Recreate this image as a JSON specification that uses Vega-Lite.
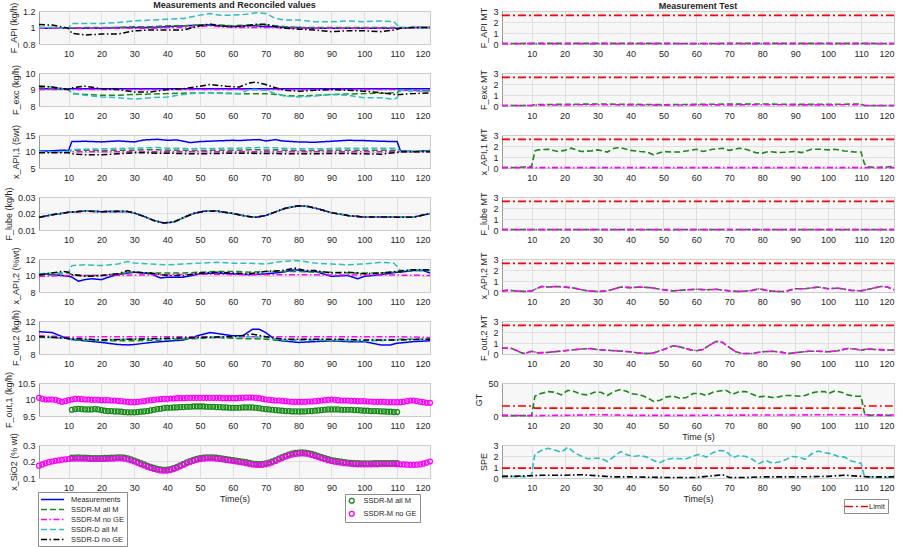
{
"background":"white",
"padding":{"left":3,"top":0,"right":0,"bottom":0},
"config":{
 "font":"Liberation Sans",
 "view":{"stroke":"#9a9a9a","fill":"#f7f7f7"},
 "axis":{"domain":false,"ticks":false,"grid":true,"gridColor":"#d9d9d9","gridWidth":0.8,"labelFontSize":9,"labelColor":"#262626","titleFontSize":9,"titleFontWeight":"normal","titleColor":"#262626","labelOverlap":false,"format":"~r"},
 "axisX":{"labelPadding":5,"titlePadding":2},
 "axisY":{"labelPadding":4,"titlePadding":4},
 "title":{"fontSize":9,"fontWeight":"bold","color":"#262626","anchor":"middle","frame":"group"},
 "legend":{"strokeColor":"#8c8c8c","fillColor":"#ffffff","padding":3,"labelFontSize":7.5,"labelColor":"#262626","rowPadding":2,"symbolStrokeWidth":1.5,"cornerRadius":0}
},
"datasets":{
"L1":[{"t":1,"a":0.99,"b":1.0,"c":0.99,"d":1.0,"e":1.035},{"t":5,"a":0.99,"b":1.0,"c":0.99,"d":1.0,"e":1.03},{"t":10,"a":0.99,"b":0.99,"c":0.99,"d":0.99,"e":0.99},{"t":11,"a":0.99,"b":0.99,"c":0.99,"d":1.05,"e":0.93},{"t":15,"a":0.99,"b":1.0,"c":0.99,"d":1.05,"e":0.91},{"t":20,"a":0.99,"b":1.0,"c":0.99,"d":1.05,"e":0.92},{"t":25,"a":1.0,"b":1.0,"c":0.99,"d":1.06,"e":0.92},{"t":30,"a":1.0,"b":1.01,"c":0.99,"d":1.08,"e":0.96},{"t":35,"a":1.0,"b":1.01,"c":0.99,"d":1.09,"e":0.97},{"t":40,"a":1.01,"b":1.02,"c":1.0,"d":1.1,"e":0.97},{"t":45,"a":1.02,"b":1.02,"c":1.0,"d":1.11,"e":0.97},{"t":50,"a":1.03,"b":1.03,"c":1.01,"d":1.15,"e":1.02},{"t":53,"a":1.03,"b":1.04,"c":1.02,"d":1.17,"e":1.04},{"t":56,"a":1.02,"b":1.03,"c":1.01,"d":1.15,"e":1.02},{"t":60,"a":1.01,"b":1.02,"c":1.0,"d":1.15,"e":1.01},{"t":64,"a":1.02,"b":1.03,"c":1.0,"d":1.16,"e":1.02},{"t":67,"a":1.02,"b":1.03,"c":1.0,"d":1.18,"e":1.04},{"t":70,"a":1.01,"b":1.03,"c":1.0,"d":1.17,"e":1.04},{"t":73,"a":1.01,"b":1.02,"c":1.0,"d":1.11,"e":1.01},{"t":76,"a":1.0,"b":1.01,"c":0.99,"d":1.09,"e":0.99},{"t":80,"a":1.0,"b":1.0,"c":0.99,"d":1.09,"e":0.98},{"t":85,"a":0.99,"b":1.0,"c":0.99,"d":1.07,"e":0.97},{"t":90,"a":0.99,"b":1.0,"c":0.99,"d":1.07,"e":0.95},{"t":95,"a":0.99,"b":1.0,"c":0.99,"d":1.08,"e":0.96},{"t":100,"a":0.99,"b":1.0,"c":0.99,"d":1.07,"e":0.96},{"t":105,"a":0.99,"b":1.0,"c":0.99,"d":1.08,"e":0.95},{"t":109,"a":0.99,"b":1.0,"c":0.99,"d":1.07,"e":0.97},{"t":110,"a":0.99,"b":1.0,"c":0.99,"d":1.03,"e":0.98},{"t":111,"a":0.99,"b":1.0,"c":0.99,"d":1.0,"e":0.99},{"t":115,"a":1.0,"b":1.0,"c":1.0,"d":1.0,"e":1.0},{"t":120,"a":1.0,"b":1.0,"c":1.0,"d":1.0,"e":1.0}],
"L2":[{"t":1,"a":9.05,"b":9.1,"c":9.0,"d":9.2,"e":9.2},{"t":5,"a":9.05,"b":9.05,"c":9.0,"d":9.15,"e":9.15},{"t":10,"a":9.05,"b":9.0,"c":9.0,"d":9.0,"e":9.0},{"t":11,"a":9.05,"b":8.75,"c":9.0,"d":8.8,"e":9.1},{"t":15,"a":9.05,"b":8.7,"c":9.0,"d":8.65,"e":9.2},{"t":20,"a":9.05,"b":8.65,"c":9.0,"d":8.55,"e":9.05},{"t":25,"a":9.05,"b":8.65,"c":9.0,"d":8.5,"e":9.0},{"t":30,"a":9.05,"b":8.7,"c":9.0,"d":8.42,"e":8.85},{"t":35,"a":9.05,"b":8.72,"c":9.0,"d":8.5,"e":8.85},{"t":40,"a":9.05,"b":8.75,"c":9.0,"d":8.55,"e":9.0},{"t":45,"a":9.05,"b":8.78,"c":9.0,"d":8.7,"e":9.05},{"t":50,"a":9.05,"b":8.8,"c":9.0,"d":8.8,"e":9.2},{"t":53,"a":9.05,"b":8.8,"c":9.0,"d":8.8,"e":9.3},{"t":58,"a":9.05,"b":8.78,"c":9.0,"d":8.75,"e":9.2},{"t":62,"a":9.05,"b":8.75,"c":9.0,"d":8.75,"e":9.15},{"t":65,"a":9.05,"b":8.75,"c":9.0,"d":9.0,"e":9.4},{"t":67,"a":9.05,"b":8.75,"c":9.0,"d":9.0,"e":9.45},{"t":70,"a":9.05,"b":8.75,"c":9.0,"d":8.95,"e":9.3},{"t":73,"a":9.05,"b":8.7,"c":9.0,"d":8.75,"e":9.1},{"t":76,"a":9.05,"b":8.62,"c":9.0,"d":8.6,"e":8.95},{"t":80,"a":9.05,"b":8.6,"c":9.0,"d":8.55,"e":8.9},{"t":85,"a":9.05,"b":8.65,"c":9.0,"d":8.6,"e":8.95},{"t":90,"a":9.05,"b":8.7,"c":9.0,"d":8.7,"e":9.0},{"t":95,"a":9.05,"b":8.72,"c":9.0,"d":8.65,"e":8.95},{"t":100,"a":9.05,"b":8.75,"c":9.0,"d":8.5,"e":8.9},{"t":105,"a":9.05,"b":8.78,"c":9.0,"d":8.5,"e":8.8},{"t":109,"a":9.05,"b":8.8,"c":9.0,"d":8.4,"e":8.7},{"t":110,"a":9.05,"b":8.8,"c":9.0,"d":8.5,"e":8.7},{"t":111,"a":9.05,"b":9.0,"c":8.95,"d":8.95,"e":8.7},{"t":115,"a":9.05,"b":8.95,"c":8.95,"d":8.9,"e":8.75},{"t":120,"a":9.05,"b":8.9,"c":8.95,"d":8.9,"e":8.8}],
"L3":[{"t":1,"a":10.1,"b":9.9,"c":9.8,"d":9.9,"e":9.6},{"t":5,"a":10.2,"b":9.9,"c":9.8,"d":9.9,"e":9.6},{"t":8,"a":10.4,"b":10.0,"c":9.8,"d":10.0,"e":9.6},{"t":10,"a":10.3,"b":10.0,"c":9.8,"d":10.0,"e":9.6},{"t":11,"a":13.0,"b":10.4,"c":9.9,"d":10.6,"e":9.3},{"t":15,"a":13.1,"b":10.4,"c":9.9,"d":10.7,"e":9.0},{"t":20,"a":12.9,"b":10.3,"c":9.9,"d":10.8,"e":9.0},{"t":25,"a":13.2,"b":10.4,"c":9.9,"d":10.9,"e":9.3},{"t":30,"a":12.9,"b":10.4,"c":9.9,"d":11.0,"e":9.6},{"t":33,"a":13.5,"b":10.5,"c":9.9,"d":11.1,"e":9.6},{"t":37,"a":13.7,"b":10.5,"c":9.9,"d":11.2,"e":9.5},{"t":40,"a":13.4,"b":10.4,"c":9.9,"d":11.0,"e":9.5},{"t":43,"a":13.5,"b":10.4,"c":9.9,"d":11.0,"e":9.4},{"t":47,"a":12.7,"b":10.3,"c":9.9,"d":10.8,"e":9.3},{"t":50,"a":13.0,"b":10.3,"c":9.9,"d":10.9,"e":9.3},{"t":55,"a":13.2,"b":10.4,"c":9.9,"d":10.9,"e":9.4},{"t":60,"a":13.4,"b":10.4,"c":9.9,"d":11.0,"e":9.5},{"t":62,"a":13.3,"b":10.4,"c":9.9,"d":11.0,"e":9.5},{"t":65,"a":13.5,"b":10.5,"c":9.9,"d":11.1,"e":9.5},{"t":68,"a":13.6,"b":10.5,"c":9.9,"d":11.2,"e":9.4},{"t":70,"a":13.2,"b":10.4,"c":9.9,"d":11.1,"e":9.4},{"t":73,"a":13.6,"b":10.5,"c":9.9,"d":11.1,"e":9.4},{"t":75,"a":13.2,"b":10.4,"c":9.9,"d":11.0,"e":9.3},{"t":80,"a":12.9,"b":10.3,"c":9.9,"d":10.8,"e":9.3},{"t":85,"a":12.8,"b":10.3,"c":9.9,"d":10.8,"e":9.3},{"t":90,"a":13.1,"b":10.4,"c":9.9,"d":10.9,"e":9.4},{"t":95,"a":13.4,"b":10.4,"c":9.9,"d":11.0,"e":9.4},{"t":100,"a":13.3,"b":10.4,"c":9.9,"d":11.0,"e":9.3},{"t":105,"a":13.1,"b":10.4,"c":9.9,"d":11.0,"e":9.2},{"t":110,"a":13.0,"b":10.4,"c":9.9,"d":11.0,"e":9.7},{"t":111,"a":10.2,"b":10.0,"c":9.9,"d":10.0,"e":9.9},{"t":115,"a":10.0,"b":10.0,"c":9.9,"d":10.0,"e":9.9},{"t":120,"a":10.3,"b":10.1,"c":9.9,"d":10.1,"e":9.9}],
"L4":[{"t":1,"a":0.0177,"b":0.0177,"c":0.0177,"d":0.0177,"e":0.0177},{"t":5,"a":0.0192,"b":0.0192,"c":0.0192,"d":0.0192,"e":0.0192},{"t":10,"a":0.0207,"b":0.0207,"c":0.0207,"d":0.0207,"e":0.0207},{"t":15,"a":0.0215,"b":0.0215,"c":0.0215,"d":0.0215,"e":0.0215},{"t":20,"a":0.0211,"b":0.0211,"c":0.0211,"d":0.0211,"e":0.0211},{"t":25,"a":0.0213,"b":0.0213,"c":0.0213,"d":0.0213,"e":0.0213},{"t":28,"a":0.0212,"b":0.0212,"c":0.0212,"d":0.0212,"e":0.0212},{"t":30,"a":0.0203,"b":0.0203,"c":0.0203,"d":0.0203,"e":0.0203},{"t":33,"a":0.0182,"b":0.0182,"c":0.0182,"d":0.0182,"e":0.0182},{"t":36,"a":0.0157,"b":0.0157,"c":0.0157,"d":0.0157,"e":0.0157},{"t":39,"a":0.0143,"b":0.0143,"c":0.0143,"d":0.0143,"e":0.0143},{"t":42,"a":0.0148,"b":0.0148,"c":0.0148,"d":0.0148,"e":0.0148},{"t":45,"a":0.0175,"b":0.0175,"c":0.0175,"d":0.0175,"e":0.0175},{"t":48,"a":0.02,"b":0.02,"c":0.02,"d":0.02,"e":0.02},{"t":51,"a":0.0213,"b":0.0213,"c":0.0213,"d":0.0213,"e":0.0213},{"t":55,"a":0.0215,"b":0.0215,"c":0.0215,"d":0.0215,"e":0.0215},{"t":60,"a":0.02,"b":0.02,"c":0.02,"d":0.02,"e":0.02},{"t":64,"a":0.0184,"b":0.0184,"c":0.0184,"d":0.0184,"e":0.0184},{"t":67,"a":0.0177,"b":0.0177,"c":0.0177,"d":0.0177,"e":0.0177},{"t":70,"a":0.0188,"b":0.0188,"c":0.0188,"d":0.0188,"e":0.0188},{"t":73,"a":0.021,"b":0.021,"c":0.021,"d":0.021,"e":0.021},{"t":76,"a":0.0232,"b":0.0232,"c":0.0232,"d":0.0232,"e":0.0232},{"t":80,"a":0.0247,"b":0.0247,"c":0.0247,"d":0.0247,"e":0.0247},{"t":83,"a":0.0242,"b":0.0242,"c":0.0242,"d":0.0242,"e":0.0242},{"t":86,"a":0.0228,"b":0.0228,"c":0.0228,"d":0.0228,"e":0.0228},{"t":90,"a":0.0205,"b":0.0205,"c":0.0205,"d":0.0205,"e":0.0205},{"t":95,"a":0.0188,"b":0.0188,"c":0.0188,"d":0.0188,"e":0.0188},{"t":100,"a":0.0178,"b":0.0178,"c":0.0178,"d":0.0178,"e":0.0178},{"t":105,"a":0.0179,"b":0.0179,"c":0.0179,"d":0.0179,"e":0.0179},{"t":110,"a":0.0178,"b":0.0178,"c":0.0178,"d":0.0178,"e":0.0178},{"t":115,"a":0.0178,"b":0.0178,"c":0.0178,"d":0.0178,"e":0.0178},{"t":120,"a":0.02,"b":0.02,"c":0.02,"d":0.02,"e":0.02}],
"L5":[{"t":1,"a":10.0,"b":10.0,"c":9.9,"d":10.2,"e":10.1},{"t":3,"a":10.2},{"t":5,"a":10.1,"b":10.1,"d":10.3,"e":10.3},{"t":8,"a":10.0,"e":10.5},{"t":10,"a":9.9,"b":10.3,"c":10.0,"d":10.3,"e":10.4},{"t":11,"a":9.8,"b":10.1,"d":11.2,"e":10.1},{"t":13,"a":9.3},{"t":15,"a":9.5,"b":10.0,"d":11.3,"e":9.9},{"t":17,"a":9.6},{"t":20,"a":9.5,"b":10.0,"c":10.0,"d":11.2,"e":10.0},{"t":23,"a":9.9},{"t":25,"a":10.1,"b":10.2,"d":11.4,"e":10.2},{"t":28,"a":10.3,"d":11.7,"e":10.6},{"t":30,"a":10.4,"b":10.4,"c":10.05,"d":11.5,"e":10.4},{"t":33,"a":10.3},{"t":35,"a":10.2,"b":10.3,"d":11.4,"e":10.3},{"t":38,"a":9.7},{"t":40,"a":9.8,"b":10.3,"c":10.1,"d":11.3,"e":10.0},{"t":45,"a":9.8,"b":10.3,"d":11.4,"e":10.0},{"t":50,"a":10.2,"b":10.4,"c":10.15,"d":11.5,"e":10.3},{"t":55,"a":10.3,"b":10.5,"d":11.6,"e":10.4},{"t":60,"a":10.2,"b":10.5,"c":10.1,"d":11.5,"e":10.3},{"t":65,"a":10.1,"b":10.4,"d":11.5,"e":10.2},{"t":70,"a":10.2,"b":10.5,"c":10.1,"d":11.4,"e":10.5},{"t":75,"a":10.4,"b":10.5,"d":11.7,"e":10.6},{"t":79,"a":10.7,"e":10.9},{"t":80,"b":10.5,"c":10.1,"d":11.8},{"t":82,"a":10.5,"e":10.6},{"t":85,"a":10.5,"b":10.4,"d":11.5,"e":10.6},{"t":90,"a":9.9,"b":10.4,"c":10.05,"d":11.4,"e":10.3},{"t":95,"a":10.0,"b":10.3,"d":11.3,"e":10.4},{"t":98,"a":9.6},{"t":100,"a":9.9,"b":10.3,"c":10.05,"d":11.4,"e":10.2},{"t":105,"a":10.1,"b":10.3,"d":11.6,"e":10.3},{"t":109,"d":11.5},{"t":110,"a":10.4,"b":10.4,"c":10.05,"d":11.1,"e":10.5},{"t":111,"a":10.4,"b":10.5,"d":10.6},{"t":115,"a":10.6,"b":10.6,"d":10.7,"e":10.7},{"t":118,"a":10.6},{"t":120,"a":10.3,"b":10.6,"c":10.0,"d":10.7,"e":10.7}],
"L6":[{"t":1,"a":10.7,"b":10.1,"c":10.2,"d":10.1,"e":10.1},{"t":5,"a":10.6},{"t":10,"a":9.8,"b":9.9,"c":10.05,"d":9.9,"e":9.9},{"t":11,"b":9.7,"d":9.8},{"t":15,"a":9.6},{"t":20,"a":9.4,"b":9.6,"c":10.1,"d":9.7,"e":9.7},{"t":25,"a":9.15},{"t":28,"a":9.1},{"t":30,"a":9.15,"b":9.6,"c":10.1,"d":9.8,"e":9.8},{"t":35,"a":9.4},{"t":40,"a":9.55,"b":9.7,"c":10.1,"d":9.8,"e":9.9},{"t":45,"a":9.7},{"t":50,"a":10.3,"b":9.9,"c":10.1,"d":10.0,"e":10.0},{"t":53,"a":10.6},{"t":55,"a":10.5,"b":10.0},{"t":60,"a":10.2,"b":9.9,"c":10.1,"d":10.1,"e":10.1},{"t":63,"a":10.2},{"t":66,"a":11.0,"d":10.1,"e":10.4},{"t":68,"a":11.0},{"t":70,"a":10.6,"b":9.8,"c":10.1,"d":10.0,"e":10.1},{"t":73,"a":9.7},{"t":75,"a":9.6,"b":9.6,"d":9.7,"e":9.8},{"t":80,"a":9.4,"b":9.7,"c":10.1,"d":9.7,"e":9.8},{"t":85,"a":9.5},{"t":90,"a":9.6,"b":9.6,"c":10.1,"d":9.7,"e":9.8},{"t":95,"a":9.5},{"t":100,"a":9.5,"b":9.6,"c":10.1,"d":9.6,"e":9.7},{"t":105,"a":9.1},{"t":108,"a":9.1},{"t":110,"a":9.3,"b":9.7,"c":10.1,"d":9.7,"e":9.7},{"t":111,"b":9.8,"d":9.8},{"t":115,"a":9.5},{"t":120,"a":9.6,"b":9.8,"c":10.0,"d":9.8,"e":9.8}],
"L7":[{"t":1,"c":10.05},{"t":2,"c":10.02},{"t":3,"c":10.0},{"t":4,"c":10.0},{"t":5,"c":10.0},{"t":6,"c":9.99},{"t":7,"c":9.96},{"t":8,"c":9.93},{"t":9,"c":9.95},{"t":10,"c":9.98},{"t":11,"b":9.69,"c":10.0},{"t":12,"b":9.71,"c":10.02},{"t":13,"b":9.72,"c":10.02},{"t":14,"b":9.71,"c":10.01},{"t":15,"b":9.7,"c":10.0},{"t":16,"b":9.7,"c":10.0},{"t":17,"b":9.7,"c":9.99},{"t":18,"b":9.71,"c":9.99},{"t":19,"b":9.7,"c":9.99},{"t":20,"b":9.68,"c":9.98},{"t":21,"b":9.66,"c":9.98},{"t":22,"b":9.65,"c":9.98},{"t":23,"b":9.65,"c":9.97},{"t":24,"b":9.64,"c":9.97},{"t":25,"b":9.64,"c":9.96},{"t":26,"b":9.63,"c":9.95},{"t":27,"b":9.62,"c":9.94},{"t":28,"b":9.61,"c":9.93},{"t":29,"b":9.61,"c":9.92},{"t":30,"b":9.61,"c":9.92},{"t":31,"b":9.62,"c":9.93},{"t":32,"b":9.63,"c":9.94},{"t":33,"b":9.64,"c":9.95},{"t":34,"b":9.65,"c":9.97},{"t":35,"b":9.67,"c":9.98},{"t":36,"b":9.69,"c":9.99},{"t":37,"b":9.71,"c":10.0},{"t":38,"b":9.72,"c":10.01},{"t":39,"b":9.74,"c":10.02},{"t":40,"b":9.75,"c":10.02},{"t":41,"b":9.75,"c":10.03},{"t":42,"b":9.76,"c":10.03},{"t":43,"b":9.76,"c":10.04},{"t":44,"b":9.77,"c":10.04},{"t":45,"b":9.77,"c":10.04},{"t":46,"b":9.78,"c":10.05},{"t":47,"b":9.78,"c":10.05},{"t":48,"b":9.79,"c":10.05},{"t":49,"b":9.79,"c":10.05},{"t":50,"b":9.79,"c":10.05},{"t":51,"b":9.79,"c":10.05},{"t":52,"b":9.78,"c":10.05},{"t":53,"b":9.78,"c":10.05},{"t":54,"b":9.78,"c":10.05},{"t":55,"b":9.77,"c":10.05},{"t":56,"b":9.77,"c":10.05},{"t":57,"b":9.76,"c":10.04},{"t":58,"b":9.76,"c":10.04},{"t":59,"b":9.75,"c":10.04},{"t":60,"b":9.75,"c":10.04},{"t":61,"b":9.75,"c":10.04},{"t":62,"b":9.75,"c":10.05},{"t":63,"b":9.76,"c":10.05},{"t":64,"b":9.76,"c":10.06},{"t":65,"b":9.76,"c":10.06},{"t":66,"b":9.76,"c":10.06},{"t":67,"b":9.75,"c":10.05},{"t":68,"b":9.74,"c":10.04},{"t":69,"b":9.72,"c":10.02},{"t":70,"b":9.71,"c":10.0},{"t":71,"b":9.7,"c":9.99},{"t":72,"b":9.69,"c":9.98},{"t":73,"b":9.68,"c":9.97},{"t":74,"b":9.67,"c":9.97},{"t":75,"b":9.66,"c":9.96},{"t":76,"b":9.65,"c":9.95},{"t":77,"b":9.65,"c":9.94},{"t":78,"b":9.64,"c":9.93},{"t":79,"b":9.64,"c":9.93},{"t":80,"b":9.64,"c":9.93},{"t":81,"b":9.64,"c":9.93},{"t":82,"b":9.64,"c":9.93},{"t":83,"b":9.65,"c":9.94},{"t":84,"b":9.65,"c":9.94},{"t":85,"b":9.66,"c":9.95},{"t":86,"b":9.67,"c":9.96},{"t":87,"b":9.68,"c":9.97},{"t":88,"b":9.69,"c":9.98},{"t":89,"b":9.7,"c":9.99},{"t":90,"b":9.7,"c":10.0},{"t":91,"b":9.7,"c":9.99},{"t":92,"b":9.7,"c":9.98},{"t":93,"b":9.69,"c":9.97},{"t":94,"b":9.69,"c":9.97},{"t":95,"b":9.69,"c":9.97},{"t":96,"b":9.69,"c":9.96},{"t":97,"b":9.68,"c":9.96},{"t":98,"b":9.68,"c":9.95},{"t":99,"b":9.67,"c":9.95},{"t":100,"b":9.66,"c":9.95},{"t":101,"b":9.66,"c":9.94},{"t":102,"b":9.65,"c":9.94},{"t":103,"b":9.65,"c":9.93},{"t":104,"b":9.65,"c":9.93},{"t":105,"b":9.64,"c":9.93},{"t":106,"b":9.64,"c":9.93},{"t":107,"b":9.63,"c":9.92},{"t":108,"b":9.63,"c":9.92},{"t":109,"b":9.62,"c":9.92},{"t":110,"b":9.62,"c":9.92},{"t":111,"c":9.92},{"t":112,"c":9.93},{"t":113,"c":9.95},{"t":114,"c":9.97},{"t":115,"c":9.97},{"t":116,"c":9.95},{"t":117,"c":9.93},{"t":118,"c":9.92},{"t":119,"c":9.9},{"t":120,"c":9.9}],
"L8":[{"t":1,"c":0.175},{"t":2,"c":0.182},{"t":3,"c":0.19},{"t":4,"c":0.196},{"t":5,"c":0.2},{"t":6,"c":0.204},{"t":7,"c":0.207},{"t":8,"c":0.21},{"t":9,"c":0.213},{"t":10,"c":0.215},{"t":11,"b":0.223,"c":0.217},{"t":12,"b":0.224,"c":0.218},{"t":13,"b":0.225,"c":0.218},{"t":14,"b":0.224,"c":0.218},{"t":15,"b":0.223,"c":0.217},{"t":16,"b":0.222,"c":0.216},{"t":17,"b":0.221,"c":0.215},{"t":18,"b":0.221,"c":0.215},{"t":19,"b":0.221,"c":0.215},{"t":20,"b":0.221,"c":0.215},{"t":21,"b":0.222,"c":0.215},{"t":22,"b":0.222,"c":0.216},{"t":23,"b":0.223,"c":0.217},{"t":24,"b":0.224,"c":0.218},{"t":25,"b":0.225,"c":0.219},{"t":26,"b":0.225,"c":0.219},{"t":27,"b":0.223,"c":0.217},{"t":28,"b":0.219,"c":0.213},{"t":29,"b":0.213,"c":0.207},{"t":30,"b":0.206,"c":0.2},{"t":31,"b":0.198,"c":0.192},{"t":32,"b":0.19,"c":0.184},{"t":33,"b":0.182,"c":0.176},{"t":34,"b":0.174,"c":0.168},{"t":35,"b":0.167,"c":0.161},{"t":36,"b":0.161,"c":0.155},{"t":37,"b":0.156,"c":0.15},{"t":38,"b":0.152,"c":0.146},{"t":39,"b":0.15,"c":0.144},{"t":40,"b":0.151,"c":0.145},{"t":41,"b":0.154,"c":0.148},{"t":42,"b":0.16,"c":0.154},{"t":43,"b":0.168,"c":0.162},{"t":44,"b":0.177,"c":0.171},{"t":45,"b":0.186,"c":0.18},{"t":46,"b":0.195,"c":0.189},{"t":47,"b":0.203,"c":0.197},{"t":48,"b":0.21,"c":0.204},{"t":49,"b":0.216,"c":0.21},{"t":50,"b":0.22,"c":0.214},{"t":51,"b":0.223,"c":0.217},{"t":52,"b":0.225,"c":0.219},{"t":53,"b":0.225,"c":0.219},{"t":54,"b":0.225,"c":0.219},{"t":55,"b":0.223,"c":0.217},{"t":56,"b":0.221,"c":0.215},{"t":57,"b":0.218,"c":0.212},{"t":58,"b":0.215,"c":0.209},{"t":59,"b":0.212,"c":0.206},{"t":60,"b":0.209,"c":0.203},{"t":61,"b":0.206,"c":0.2},{"t":62,"b":0.203,"c":0.197},{"t":63,"b":0.2,"c":0.194},{"t":64,"b":0.196,"c":0.19},{"t":65,"b":0.192,"c":0.186},{"t":66,"b":0.188,"c":0.182},{"t":67,"b":0.186,"c":0.18},{"t":68,"b":0.185,"c":0.179},{"t":69,"b":0.186,"c":0.18},{"t":70,"b":0.189,"c":0.183},{"t":71,"b":0.194,"c":0.188},{"t":72,"b":0.201,"c":0.195},{"t":73,"b":0.209,"c":0.203},{"t":74,"b":0.218,"c":0.212},{"t":75,"b":0.227,"c":0.221},{"t":76,"b":0.235,"c":0.229},{"t":77,"b":0.242,"c":0.236},{"t":78,"b":0.248,"c":0.242},{"t":79,"b":0.252,"c":0.246},{"t":80,"b":0.254,"c":0.248},{"t":81,"b":0.255,"c":0.249},{"t":82,"b":0.254,"c":0.248},{"t":83,"b":0.251,"c":0.245},{"t":84,"b":0.246,"c":0.24},{"t":85,"b":0.24,"c":0.234},{"t":86,"b":0.233,"c":0.227},{"t":87,"b":0.226,"c":0.22},{"t":88,"b":0.22,"c":0.214},{"t":89,"b":0.214,"c":0.208},{"t":90,"b":0.209,"c":0.203},{"t":91,"b":0.205,"c":0.199},{"t":92,"b":0.202,"c":0.196},{"t":93,"b":0.199,"c":0.193},{"t":94,"b":0.196,"c":0.19},{"t":95,"b":0.194,"c":0.188},{"t":96,"b":0.192,"c":0.186},{"t":97,"b":0.191,"c":0.185},{"t":98,"b":0.19,"c":0.184},{"t":99,"b":0.189,"c":0.183},{"t":100,"b":0.189,"c":0.183},{"t":101,"b":0.189,"c":0.183},{"t":102,"b":0.189,"c":0.183},{"t":103,"b":0.19,"c":0.184},{"t":104,"b":0.19,"c":0.184},{"t":105,"b":0.191,"c":0.185},{"t":106,"b":0.191,"c":0.185},{"t":107,"b":0.191,"c":0.185},{"t":108,"b":0.191,"c":0.185},{"t":109,"b":0.191,"c":0.185},{"t":110,"b":0.19,"c":0.184},{"t":111,"c":0.183},{"t":112,"c":0.182},{"t":113,"c":0.181},{"t":114,"c":0.18},{"t":115,"c":0.18},{"t":116,"c":0.181},{"t":117,"c":0.183},{"t":118,"c":0.187},{"t":119,"c":0.193},{"t":120,"c":0.2}],
"R1":[{"t":1,"b":0.05,"c":0.03,"f":2.6},{"t":30,"b":0.06,"c":0.03},{"t":60,"b":0.05,"c":0.03},{"t":90,"b":0.06,"c":0.03},{"t":120,"b":0.05,"c":0.03,"f":2.6}],
"R2":[{"t":1,"b":0.05,"c":0.04,"f":2.6},{"t":10,"b":0.05,"c":0.04},{"t":11,"b":0.13,"c":0.08},{"t":20,"b":0.15,"c":0.1},{"t":30,"b":0.18,"c":0.12},{"t":40,"b":0.15,"c":0.1},{"t":50,"b":0.12,"c":0.08},{"t":60,"b":0.15,"c":0.1},{"t":70,"b":0.17,"c":0.1},{"t":80,"b":0.18,"c":0.12},{"t":90,"b":0.15,"c":0.1},{"t":100,"b":0.15,"c":0.1},{"t":110,"b":0.18,"c":0.12},{"t":111,"b":0.05,"c":0.04},{"t":120,"b":0.05,"c":0.04,"f":2.6}],
"R3":[{"t":1,"b":0.05,"c":0.03,"f":2.6},{"t":5,"b":0.05},{"t":8,"b":0.1},{"t":10,"b":0.15},{"t":11,"b":1.55},{"t":12,"b":1.65},{"t":15,"b":1.7},{"t":18,"b":1.5},{"t":20,"b":1.6},{"t":22,"b":1.8},{"t":25,"b":1.5},{"t":28,"b":1.55},{"t":30,"b":1.65},{"t":33,"b":1.45},{"t":35,"b":1.8},{"t":37,"b":1.85},{"t":40,"b":1.6},{"t":43,"b":1.5},{"t":45,"b":1.45},{"t":47,"b":1.2},{"t":50,"b":1.5},{"t":53,"b":1.45},{"t":55,"b":1.45},{"t":58,"b":1.6},{"t":60,"b":1.7,"c":0.03},{"t":62,"b":1.5},{"t":65,"b":1.7},{"t":68,"b":1.8},{"t":70,"b":1.6},{"t":73,"b":1.8},{"t":75,"b":1.7},{"t":78,"b":1.4},{"t":80,"b":1.35},{"t":82,"b":1.5},{"t":85,"b":1.4},{"t":88,"b":1.45},{"t":90,"b":1.5},{"t":92,"b":1.4},{"t":95,"b":1.7},{"t":98,"b":1.7},{"t":100,"b":1.65},{"t":102,"b":1.7},{"t":105,"b":1.55},{"t":108,"b":1.45},{"t":110,"b":1.45},{"t":111,"b":0.4},{"t":112,"b":0.1},{"t":115,"b":0.05},{"t":118,"b":0.1},{"t":120,"b":0.15,"c":0.03,"f":2.6}],
"R4":[{"t":1,"b":0.05,"c":0.03,"f":2.6},{"t":40,"b":0.05,"c":0.03},{"t":80,"b":0.05,"c":0.03},{"t":120,"b":0.05,"c":0.03,"f":2.6}],
"R5":[{"t":1,"b":0.1,"c":0.1,"f":2.6},{"t":3,"b":0.15,"c":0.15},{"t":5,"b":0.1,"c":0.1},{"t":8,"b":0.05,"c":0.05},{"t":10,"b":0.1,"c":0.1},{"t":13,"b":0.5,"c":0.5},{"t":15,"b":0.45,"c":0.45},{"t":18,"b":0.5,"c":0.5},{"t":20,"b":0.45,"c":0.45},{"t":23,"b":0.35,"c":0.35},{"t":27,"b":0.1,"c":0.1},{"t":30,"b":0.05,"c":0.05},{"t":33,"b":0.1,"c":0.1},{"t":37,"b":0.45,"c":0.45},{"t":40,"b":0.4,"c":0.4},{"t":43,"b":0.45,"c":0.45},{"t":46,"b":0.4,"c":0.4},{"t":50,"b":0.2,"c":0.2},{"t":53,"b":0.1,"c":0.1},{"t":57,"b":0.2,"c":0.2},{"t":60,"b":0.25,"c":0.25},{"t":63,"b":0.2,"c":0.2},{"t":66,"b":0.25,"c":0.25},{"t":70,"b":0.1,"c":0.1},{"t":73,"b":0.05,"c":0.05},{"t":77,"b":0.15,"c":0.15},{"t":79,"b":0.3,"c":0.3},{"t":82,"b":0.1,"c":0.1},{"t":85,"b":0.05,"c":0.05},{"t":87,"b":0.05,"c":0.05},{"t":90,"b":0.3,"c":0.3},{"t":93,"b":0.3,"c":0.3},{"t":97,"b":0.45,"c":0.45},{"t":100,"b":0.3,"c":0.3},{"t":103,"b":0.35,"c":0.35},{"t":107,"b":0.15,"c":0.15},{"t":110,"b":0.1,"c":0.1},{"t":113,"b":0.3,"c":0.3},{"t":116,"b":0.5,"c":0.5},{"t":118,"b":0.45,"c":0.45},{"t":120,"b":0.2,"c":0.2,"f":2.6}],
"R6":[{"t":1,"b":0.55,"c":0.55,"f":2.6},{"t":4,"b":0.5,"c":0.5},{"t":7,"b":0.1,"c":0.1},{"t":8,"b":0.05,"c":0.05},{"t":10,"b":0.25,"c":0.25},{"t":12,"b":0.1,"c":0.1},{"t":15,"b":0.15,"c":0.15},{"t":20,"b":0.3,"c":0.3},{"t":25,"b":0.45,"c":0.45},{"t":28,"b":0.5,"c":0.5},{"t":30,"b":0.4,"c":0.4},{"t":35,"b":0.3,"c":0.3},{"t":40,"b":0.2,"c":0.2},{"t":42,"b":0.1,"c":0.1},{"t":45,"b":0.05,"c":0.05},{"t":47,"b":0.1,"c":0.1},{"t":50,"b":0.4,"c":0.4},{"t":53,"b":0.75,"c":0.75},{"t":55,"b":0.65,"c":0.65},{"t":58,"b":0.4,"c":0.4},{"t":60,"b":0.3,"c":0.3},{"t":62,"b":0.4,"c":0.4},{"t":64,"b":0.8,"c":0.8},{"t":66,"b":1.15,"c":1.15},{"t":68,"b":1.05,"c":1.05},{"t":70,"b":0.6,"c":0.6},{"t":72,"b":0.2,"c":0.2},{"t":74,"b":0.05,"c":0.05},{"t":77,"b":0.05,"c":0.05},{"t":80,"b":0.2,"c":0.2},{"t":83,"b":0.25,"c":0.25},{"t":86,"b":0.15,"c":0.15},{"t":88,"b":0.05,"c":0.05},{"t":91,"b":0.15,"c":0.15},{"t":94,"b":0.25,"c":0.25},{"t":97,"b":0.25,"c":0.25},{"t":100,"b":0.2,"c":0.2},{"t":103,"b":0.3,"c":0.3},{"t":106,"b":0.5,"c":0.5},{"t":108,"b":0.45,"c":0.45},{"t":110,"b":0.35,"c":0.35},{"t":112,"b":0.45,"c":0.45},{"t":115,"b":0.4,"c":0.4},{"t":120,"b":0.35,"c":0.35,"f":2.6}],
"R7":[{"t":1,"b":0.5,"c":1.0,"f":15.1},{"t":9,"b":0.5},{"t":10,"b":1.0,"c":0.5,"f":15.1},{"t":11,"b":30,"f":12.0},{"t":12,"b":33},{"t":15,"b":37},{"t":17,"b":36},{"t":19,"b":32},{"t":20,"c":1.0},{"t":21,"b":39},{"t":23,"b":37},{"t":25,"b":33},{"t":27,"b":32},{"t":29,"b":36},{"t":30,"c":2.0},{"t":31,"b":36},{"t":33,"b":31},{"t":35,"b":37},{"t":37,"b":40},{"t":39,"b":37},{"t":40,"b":34,"c":1.0},{"t":43,"b":32},{"t":45,"b":28},{"t":47,"b":22},{"t":49,"b":24},{"t":50,"c":1.0},{"t":51,"b":29},{"t":53,"b":30},{"t":55,"b":27},{"t":57,"b":28},{"t":59,"b":34},{"t":60,"c":1.0},{"t":61,"b":34},{"t":63,"b":31},{"t":65,"b":36},{"t":67,"b":38},{"t":69,"b":39},{"t":70,"c":1.2},{"t":71,"b":33},{"t":73,"b":37},{"t":75,"b":37},{"t":77,"b":33},{"t":79,"b":29},{"t":80,"c":1.5},{"t":81,"b":30},{"t":83,"b":28},{"t":85,"b":29},{"t":87,"b":31},{"t":89,"b":31},{"t":90,"c":1.5},{"t":91,"b":30},{"t":93,"b":31},{"t":95,"b":35},{"t":97,"b":37},{"t":99,"b":37},{"t":100,"b":34,"c":2.0},{"t":102,"b":38},{"t":104,"b":36},{"t":106,"b":32},{"t":108,"b":30},{"t":110,"b":30,"c":2.0,"f":12.0},{"t":111,"b":5,"f":15.1},{"t":112,"b":1},{"t":120,"b":1,"c":1.5,"f":15.1}],
"R8":[{"t":1,"d":0.15,"e":0.15,"f":0.9},{"t":5,"d":0.15,"e":0.15},{"t":8,"e":0.2},{"t":9,"d":0.1},{"t":10,"d":0.3,"e":0.2},{"t":11,"d":2.2},{"t":13,"d":2.5,"e":0.25},{"t":15,"d":2.7},{"t":17,"d":2.55},{"t":19,"d":2.35},{"t":20,"e":0.25},{"t":21,"d":2.8},{"t":23,"d":2.3},{"t":25,"d":2.0,"e":0.3},{"t":27,"d":1.75},{"t":29,"d":1.8},{"t":30,"e":0.2},{"t":31,"d":1.8},{"t":33,"d":1.5},{"t":35,"d":1.95,"e":0.1},{"t":37,"d":2.4},{"t":39,"d":2.1},{"t":40,"e":0.1},{"t":41,"d":1.95},{"t":43,"d":2.05},{"t":45,"d":1.9},{"t":47,"d":1.6},{"t":49,"d":1.4},{"t":50,"e":0.05},{"t":51,"d":1.7},{"t":53,"d":1.8},{"t":55,"d":1.75},{"t":57,"d":1.75},{"t":59,"d":2.0},{"t":60,"e":0.05},{"t":61,"d":2.15},{"t":63,"d":1.9},{"t":65,"d":2.3,"e":0.2},{"t":67,"d":2.5},{"t":68,"e":0.3},{"t":69,"d":2.45},{"t":70,"e":0.05},{"t":71,"d":1.85},{"t":73,"d":2.05},{"t":75,"d":1.95,"e":0.05},{"t":77,"d":1.7},{"t":79,"d":1.3},{"t":80,"e":0.1},{"t":81,"d":1.6},{"t":83,"d":1.35},{"t":85,"d":1.45},{"t":87,"d":1.65},{"t":89,"d":1.95},{"t":90,"e":0.1},{"t":91,"d":1.9},{"t":93,"d":1.7},{"t":95,"d":2.2},{"t":97,"d":2.45},{"t":99,"d":2.3},{"t":100,"e":0.15},{"t":101,"d":2.2},{"t":103,"d":1.95},{"t":105,"d":1.9,"e":0.25},{"t":107,"d":1.55},{"t":109,"d":1.4},{"t":110,"d":1.35,"e":0.15},{"t":111,"d":0.15},{"t":112,"e":0.1},{"t":113,"d":0.1},{"t":115,"d":0.05},{"t":118,"d":0.05},{"t":120,"d":0.2,"e":0.1,"f":0.9}]
},
"hconcat":[
{"vconcat":[
 {"width":391,"height":33,"title":{"text":"Measurements and Reconciled values","offset":-8},
  "encoding":{"x":{"field":"t","type":"quantitative","scale":{"domain":[1,120],"nice":false,"zero":false},"axis":{"values":[10,20,30,40,50,60,70,80,90,100,110,120],"title":null}}},
  "layer":[
   {"data":{"values":[{}]},"mark":{"type":"rect","color":"#000000","opacity":0.06,"y2Offset":29},"encoding":{"x":{"datum":10},"x2":{"datum":110}}},
   {"data":{"name":"L1"},"transform":[{"fold":["a","b","c","d","e","f"],"as":["s","v"]},{"filter":"isValid(datum.v)"}],"mark":{"type":"line","strokeWidth":1.5},
    "encoding":{"y":{"field":"v","type":"quantitative","scale":{"domain":[0.8,1.2],"nice":false,"zero":false},"axis":{"values":[0.8,1,1.2],"title":"F_API (kg/h)"}},
     "color":{"field":"s","type":"nominal","scale":{"domain":["a","b","c","d","e","f"],"range":["#0000ff","#178a17","#ff00ff","#2cbfbf","#000000","#ff0000"]},"legend":null},
     "strokeDash":{"field":"s","type":"nominal","scale":{"domain":["a","b","c","d","e","f"],"range":[[1,0],[6,3],[6,2.5,1.5,2.5],[6,3],[6,2.5,1.5,2.5],[8,3,2,3]]},"legend":null}}}
  ]},
 {"width":391,"height":33,
  "encoding":{"x":{"field":"t","type":"quantitative","scale":{"domain":[1,120],"nice":false,"zero":false},"axis":{"values":[10,20,30,40,50,60,70,80,90,100,110,120],"title":null}}},
  "layer":[
   {"data":{"values":[{}]},"mark":{"type":"rect","color":"#000000","opacity":0.06,"y2Offset":29},"encoding":{"x":{"datum":10},"x2":{"datum":110}}},
   {"data":{"name":"L2"},"transform":[{"fold":["a","b","c","d","e","f"],"as":["s","v"]},{"filter":"isValid(datum.v)"}],"mark":{"type":"line","strokeWidth":1.5},
    "encoding":{"y":{"field":"v","type":"quantitative","scale":{"domain":[8,10],"nice":false,"zero":false},"axis":{"values":[8,9,10],"title":"F_exc (kg/h)"}},
     "color":{"field":"s","type":"nominal","scale":{"domain":["a","b","c","d","e","f"],"range":["#0000ff","#178a17","#ff00ff","#2cbfbf","#000000","#ff0000"]},"legend":null},
     "strokeDash":{"field":"s","type":"nominal","scale":{"domain":["a","b","c","d","e","f"],"range":[[1,0],[6,3],[6,2.5,1.5,2.5],[6,3],[6,2.5,1.5,2.5],[8,3,2,3]]},"legend":null}}}
  ]},
 {"width":391,"height":33,
  "encoding":{"x":{"field":"t","type":"quantitative","scale":{"domain":[1,120],"nice":false,"zero":false},"axis":{"values":[10,20,30,40,50,60,70,80,90,100,110,120],"title":null}}},
  "layer":[
   {"data":{"values":[{}]},"mark":{"type":"rect","color":"#000000","opacity":0.06,"y2Offset":29},"encoding":{"x":{"datum":10},"x2":{"datum":110}}},
   {"data":{"name":"L3"},"transform":[{"fold":["a","b","c","d","e","f"],"as":["s","v"]},{"filter":"isValid(datum.v)"}],"mark":{"type":"line","strokeWidth":1.5},
    "encoding":{"y":{"field":"v","type":"quantitative","scale":{"domain":[5,15],"nice":false,"zero":false},"axis":{"values":[5,10,15],"title":"x_API,1 (5wt)"}},
     "color":{"field":"s","type":"nominal","scale":{"domain":["a","b","c","d","e","f"],"range":["#0000ff","#178a17","#ff00ff","#2cbfbf","#000000","#ff0000"]},"legend":null},
     "strokeDash":{"field":"s","type":"nominal","scale":{"domain":["a","b","c","d","e","f"],"range":[[1,0],[6,3],[6,2.5,1.5,2.5],[6,3],[6,2.5,1.5,2.5],[8,3,2,3]]},"legend":null}}}
  ]},
 {"width":391,"height":33,
  "encoding":{"x":{"field":"t","type":"quantitative","scale":{"domain":[1,120],"nice":false,"zero":false},"axis":{"values":[10,20,30,40,50,60,70,80,90,100,110,120],"title":null}}},
  "layer":[
   {"data":{"values":[{}]},"mark":{"type":"rect","color":"#000000","opacity":0.06,"y2Offset":29},"encoding":{"x":{"datum":10},"x2":{"datum":110}}},
   {"data":{"name":"L4"},"transform":[{"fold":["a","b","c","d","e","f"],"as":["s","v"]},{"filter":"isValid(datum.v)"}],"mark":{"type":"line","strokeWidth":1.5},
    "encoding":{"y":{"field":"v","type":"quantitative","scale":{"domain":[0.01,0.03],"nice":false,"zero":false},"axis":{"values":[0.01,0.02,0.03],"title":"F_lube (kg/h)"}},
     "color":{"field":"s","type":"nominal","scale":{"domain":["a","b","c","d","e","f"],"range":["#0000ff","#178a17","#ff00ff","#2cbfbf","#000000","#ff0000"]},"legend":null},
     "strokeDash":{"field":"s","type":"nominal","scale":{"domain":["a","b","c","d","e","f"],"range":[[1,0],[6,3],[6,2.5,1.5,2.5],[6,3],[6,2.5,1.5,2.5],[8,3,2,3]]},"legend":null}}}
  ]},
 {"width":391,"height":33,
  "encoding":{"x":{"field":"t","type":"quantitative","scale":{"domain":[1,120],"nice":false,"zero":false},"axis":{"values":[10,20,30,40,50,60,70,80,90,100,110,120],"title":null}}},
  "layer":[
   {"data":{"values":[{}]},"mark":{"type":"rect","color":"#000000","opacity":0.06,"y2Offset":29},"encoding":{"x":{"datum":10},"x2":{"datum":110}}},
   {"data":{"name":"L5"},"transform":[{"fold":["a","b","c","d","e","f"],"as":["s","v"]},{"filter":"isValid(datum.v)"}],"mark":{"type":"line","strokeWidth":1.5},
    "encoding":{"y":{"field":"v","type":"quantitative","scale":{"domain":[8,12],"nice":false,"zero":false},"axis":{"values":[8,10,12],"title":"x_API,2 (%wt)"}},
     "color":{"field":"s","type":"nominal","scale":{"domain":["a","b","c","d","e","f"],"range":["#0000ff","#178a17","#ff00ff","#2cbfbf","#000000","#ff0000"]},"legend":null},
     "strokeDash":{"field":"s","type":"nominal","scale":{"domain":["a","b","c","d","e","f"],"range":[[1,0],[6,3],[6,2.5,1.5,2.5],[6,3],[6,2.5,1.5,2.5],[8,3,2,3]]},"legend":null}}}
  ]},
 {"width":391,"height":33,
  "encoding":{"x":{"field":"t","type":"quantitative","scale":{"domain":[1,120],"nice":false,"zero":false},"axis":{"values":[10,20,30,40,50,60,70,80,90,100,110,120],"title":null}}},
  "layer":[
   {"data":{"values":[{}]},"mark":{"type":"rect","color":"#000000","opacity":0.06,"y2Offset":29},"encoding":{"x":{"datum":10},"x2":{"datum":110}}},
   {"data":{"name":"L6"},"transform":[{"fold":["a","b","c","d","e","f"],"as":["s","v"]},{"filter":"isValid(datum.v)"}],"mark":{"type":"line","strokeWidth":1.5},
    "encoding":{"y":{"field":"v","type":"quantitative","scale":{"domain":[8,12],"nice":false,"zero":false},"axis":{"values":[8,10,12],"title":"F_out,2 (kg/h)"}},
     "color":{"field":"s","type":"nominal","scale":{"domain":["a","b","c","d","e","f"],"range":["#0000ff","#178a17","#ff00ff","#2cbfbf","#000000","#ff0000"]},
       "legend":{"title":null,"orient":"none","legendX":-1,"legendY":171,"direction":"vertical","values":["a","b","c","d","e"],"symbolType":"M-3.3,0H3.3","symbolSize":49,"symbolOffset":7,"labelOffset":14,"labelExpr":"{'a':'Measurements','b':'SSDR-M all M','c':'SSDR-M no GE','d':'SSDR-D all M','e':'SSDR-D no GE','f':'Limit'}[datum.label]"}},
     "strokeDash":{"field":"s","type":"nominal","scale":{"domain":["a","b","c","d","e","f"],"range":[[1,0],[6,3],[6,2.5,1.5,2.5],[6,3],[6,2.5,1.5,2.5],[8,3,2,3]]},
       "legend":{"title":null,"orient":"none","legendX":-1,"legendY":171,"direction":"vertical","values":["a","b","c","d","e"],"symbolType":"M-3.3,0H3.3","symbolSize":49,"symbolOffset":7,"labelOffset":14,"labelExpr":"{'a':'Measurements','b':'SSDR-M all M','c':'SSDR-M no GE','d':'SSDR-D all M','e':'SSDR-D no GE','f':'Limit'}[datum.label]"}}}}
  ]},
 {"width":391,"height":33,
  "encoding":{"x":{"field":"t","type":"quantitative","scale":{"domain":[1,120],"nice":false,"zero":false},"axis":{"values":[10,20,30,40,50,60,70,80,90,100,110,120],"title":null}}},
  "layer":[
   {"data":{"values":[{}]},"mark":{"type":"rect","color":"#000000","opacity":0.06,"y2Offset":29},"encoding":{"x":{"datum":10},"x2":{"datum":110}}},
   {"data":{"name":"L7"},"transform":[{"fold":["b","c"],"as":["s","v"]},{"filter":"isValid(datum.v)"}],"mark":{"type":"point","shape":"circle","filled":false,"size":24,"strokeWidth":1.3,"opacity":1},
    "encoding":{"y":{"field":"v","type":"quantitative","scale":{"domain":[9.5,10.5],"nice":false,"zero":false},"axis":{"values":[9.5,10,10.5],"title":"F_out,1 (kg/h)"}},
     "color":{"field":"s","type":"nominal","scale":{"domain":["b","c"],"range":["#178a17","#ff00ff"]},"legend":null}}}
  ]},
 {"width":391,"height":33,
  "encoding":{"x":{"field":"t","type":"quantitative","scale":{"domain":[1,120],"nice":false,"zero":false},"axis":{"values":[10,20,30,40,50,60,70,80,90,100,110,120],"title":"Time(s)"}}},
  "layer":[
   {"data":{"values":[{}]},"mark":{"type":"rect","color":"#000000","opacity":0.06,"y2Offset":14},"encoding":{"x":{"datum":10},"x2":{"datum":110}}},
   {"data":{"name":"L8"},"transform":[{"fold":["b","c"],"as":["s","v"]},{"filter":"isValid(datum.v)"}],"mark":{"type":"point","shape":"circle","filled":false,"size":24,"strokeWidth":1.3,"opacity":1},
    "encoding":{"y":{"field":"v","type":"quantitative","scale":{"domain":[0.1,0.3],"nice":false,"zero":false},"axis":{"values":[0.1,0.2,0.3],"title":"x_SiO2 (% wt)"}},
     "color":{"field":"s","type":"nominal","scale":{"domain":["b","c"],"range":["#178a17","#ff00ff"]},
       "legend":{"title":null,"orient":"none","legendX":306,"legendY":49,"direction":"vertical","symbolType":"circle","symbolSize":24,"symbolStrokeWidth":1.3,"labelOffset":8,"rowPadding":2,"labelExpr":"{'b':'SSDR-M all M','c':'SSDR-M no GE'}[datum.label]"}}}}
  ]}
 ],"spacing":29,"bounds":"flush",
 "resolve":{"scale":{"color":"independent","strokeDash":"independent","y":"independent"},"legend":{"color":"independent","strokeDash":"independent"}}},
{"vconcat":[
 {"width":392,"height":33,"title":{"text":"Measurement Test","offset":-4},
  "encoding":{"x":{"field":"t","type":"quantitative","scale":{"domain":[1,120],"nice":false,"zero":false},"axis":{"values":[10,20,30,40,50,60,70,80,90,100,110,120],"title":null}}},
  "layer":[
   {"data":{"values":[{}]},"mark":{"type":"rect","color":"#000000","opacity":0.06,"y2Offset":29},"encoding":{"x":{"datum":10},"x2":{"datum":110}}},
   {"data":{"name":"R1"},"transform":[{"fold":["a","b","c","d","e","f"],"as":["s","v"]},{"filter":"isValid(datum.v)"}],"mark":{"type":"line","strokeWidth":1.6},
    "encoding":{"y":{"field":"v","type":"quantitative","scale":{"domain":[0,3],"nice":false,"zero":false},"axis":{"values":[0,1,2,3],"title":"F_API MT"}},
     "color":{"field":"s","type":"nominal","scale":{"domain":["a","b","c","d","e","f"],"range":["#0000ff","#178a17","#ff00ff","#2cbfbf","#000000","#ff0000"]},"legend":null},
     "strokeDash":{"field":"s","type":"nominal","scale":{"domain":["a","b","c","d","e","f"],"range":[[1,0],[6,3],[6,2.5,1.5,2.5],[6,3],[6,2.5,1.5,2.5],[8,3,2,3]]},"legend":null}}}
  ]},
 {"width":392,"height":33,
  "encoding":{"x":{"field":"t","type":"quantitative","scale":{"domain":[1,120],"nice":false,"zero":false},"axis":{"values":[10,20,30,40,50,60,70,80,90,100,110,120],"title":null}}},
  "layer":[
   {"data":{"values":[{}]},"mark":{"type":"rect","color":"#000000","opacity":0.06,"y2Offset":29},"encoding":{"x":{"datum":10},"x2":{"datum":110}}},
   {"data":{"name":"R2"},"transform":[{"fold":["a","b","c","d","e","f"],"as":["s","v"]},{"filter":"isValid(datum.v)"}],"mark":{"type":"line","strokeWidth":1.6},
    "encoding":{"y":{"field":"v","type":"quantitative","scale":{"domain":[0,3],"nice":false,"zero":false},"axis":{"values":[0,1,2,3],"title":"F_exc MT"}},
     "color":{"field":"s","type":"nominal","scale":{"domain":["a","b","c","d","e","f"],"range":["#0000ff","#178a17","#ff00ff","#2cbfbf","#000000","#ff0000"]},"legend":null},
     "strokeDash":{"field":"s","type":"nominal","scale":{"domain":["a","b","c","d","e","f"],"range":[[1,0],[6,3],[6,2.5,1.5,2.5],[6,3],[6,2.5,1.5,2.5],[8,3,2,3]]},"legend":null}}}
  ]},
 {"width":392,"height":33,
  "encoding":{"x":{"field":"t","type":"quantitative","scale":{"domain":[1,120],"nice":false,"zero":false},"axis":{"values":[10,20,30,40,50,60,70,80,90,100,110,120],"title":null}}},
  "layer":[
   {"data":{"values":[{}]},"mark":{"type":"rect","color":"#000000","opacity":0.06,"y2Offset":29},"encoding":{"x":{"datum":10},"x2":{"datum":110}}},
   {"data":{"name":"R3"},"transform":[{"fold":["a","b","c","d","e","f"],"as":["s","v"]},{"filter":"isValid(datum.v)"}],"mark":{"type":"line","strokeWidth":1.6},
    "encoding":{"y":{"field":"v","type":"quantitative","scale":{"domain":[0,3],"nice":false,"zero":false},"axis":{"values":[0,1,2,3],"title":"x_API,1 MT"}},
     "color":{"field":"s","type":"nominal","scale":{"domain":["a","b","c","d","e","f"],"range":["#0000ff","#178a17","#ff00ff","#2cbfbf","#000000","#ff0000"]},"legend":null},
     "strokeDash":{"field":"s","type":"nominal","scale":{"domain":["a","b","c","d","e","f"],"range":[[1,0],[6,3],[6,2.5,1.5,2.5],[6,3],[6,2.5,1.5,2.5],[8,3,2,3]]},"legend":null}}}
  ]},
 {"width":392,"height":33,
  "encoding":{"x":{"field":"t","type":"quantitative","scale":{"domain":[1,120],"nice":false,"zero":false},"axis":{"values":[10,20,30,40,50,60,70,80,90,100,110,120],"title":null}}},
  "layer":[
   {"data":{"values":[{}]},"mark":{"type":"rect","color":"#000000","opacity":0.06,"y2Offset":29},"encoding":{"x":{"datum":10},"x2":{"datum":110}}},
   {"data":{"name":"R4"},"transform":[{"fold":["a","b","c","d","e","f"],"as":["s","v"]},{"filter":"isValid(datum.v)"}],"mark":{"type":"line","strokeWidth":1.6},
    "encoding":{"y":{"field":"v","type":"quantitative","scale":{"domain":[0,3],"nice":false,"zero":false},"axis":{"values":[0,1,2,3],"title":"F_lube MT"}},
     "color":{"field":"s","type":"nominal","scale":{"domain":["a","b","c","d","e","f"],"range":["#0000ff","#178a17","#ff00ff","#2cbfbf","#000000","#ff0000"]},"legend":null},
     "strokeDash":{"field":"s","type":"nominal","scale":{"domain":["a","b","c","d","e","f"],"range":[[1,0],[6,3],[6,2.5,1.5,2.5],[6,3],[6,2.5,1.5,2.5],[8,3,2,3]]},"legend":null}}}
  ]},
 {"width":392,"height":33,
  "encoding":{"x":{"field":"t","type":"quantitative","scale":{"domain":[1,120],"nice":false,"zero":false},"axis":{"values":[10,20,30,40,50,60,70,80,90,100,110,120],"title":null}}},
  "layer":[
   {"data":{"values":[{}]},"mark":{"type":"rect","color":"#000000","opacity":0.06,"y2Offset":29},"encoding":{"x":{"datum":10},"x2":{"datum":110}}},
   {"data":{"name":"R5"},"transform":[{"fold":["a","b","c","d","e","f"],"as":["s","v"]},{"filter":"isValid(datum.v)"}],"mark":{"type":"line","strokeWidth":1.6},
    "encoding":{"y":{"field":"v","type":"quantitative","scale":{"domain":[0,3],"nice":false,"zero":false},"axis":{"values":[0,1,2,3],"title":"x_API,2 MT"}},
     "color":{"field":"s","type":"nominal","scale":{"domain":["a","b","c","d","e","f"],"range":["#0000ff","#178a17","#ff00ff","#2cbfbf","#000000","#ff0000"]},"legend":null},
     "strokeDash":{"field":"s","type":"nominal","scale":{"domain":["a","b","c","d","e","f"],"range":[[1,0],[6,3],[6,2.5,1.5,2.5],[6,3],[6,2.5,1.5,2.5],[8,3,2,3]]},"legend":null}}}
  ]},
 {"width":392,"height":33,
  "encoding":{"x":{"field":"t","type":"quantitative","scale":{"domain":[1,120],"nice":false,"zero":false},"axis":{"values":[10,20,30,40,50,60,70,80,90,100,110,120],"title":null}}},
  "layer":[
   {"data":{"values":[{}]},"mark":{"type":"rect","color":"#000000","opacity":0.06,"y2Offset":29},"encoding":{"x":{"datum":10},"x2":{"datum":110}}},
   {"data":{"name":"R6"},"transform":[{"fold":["a","b","c","d","e","f"],"as":["s","v"]},{"filter":"isValid(datum.v)"}],"mark":{"type":"line","strokeWidth":1.6},
    "encoding":{"y":{"field":"v","type":"quantitative","scale":{"domain":[0,3],"nice":false,"zero":false},"axis":{"values":[0,1,2,3],"title":"F_out,2 MT"}},
     "color":{"field":"s","type":"nominal","scale":{"domain":["a","b","c","d","e","f"],"range":["#0000ff","#178a17","#ff00ff","#2cbfbf","#000000","#ff0000"]},"legend":null},
     "strokeDash":{"field":"s","type":"nominal","scale":{"domain":["a","b","c","d","e","f"],"range":[[1,0],[6,3],[6,2.5,1.5,2.5],[6,3],[6,2.5,1.5,2.5],[8,3,2,3]]},"legend":null}}}
  ]},
 {"width":392,"height":33,
  "encoding":{"x":{"field":"t","type":"quantitative","scale":{"domain":[1,120],"nice":false,"zero":false},"axis":{"values":[10,20,30,40,50,60,70,80,90,100,110,120],"title":"Time (s)"}}},
  "layer":[
   {"data":{"values":[{}]},"mark":{"type":"rect","color":"#000000","opacity":0.06,"y2Offset":28},"encoding":{"x":{"datum":10},"x2":{"datum":110}}},
   {"data":{"name":"R7"},"transform":[{"fold":["a","b","c","d","e","f"],"as":["s","v"]},{"filter":"isValid(datum.v)"}],"mark":{"type":"line","strokeWidth":1.6},
    "encoding":{"y":{"field":"v","type":"quantitative","scale":{"domain":[0,50],"nice":false,"zero":false},"axis":{"values":[0,50],"title":"GT"}},
     "color":{"field":"s","type":"nominal","scale":{"domain":["a","b","c","d","e","f"],"range":["#0000ff","#178a17","#ff00ff","#2cbfbf","#000000","#ff0000"]},"legend":null},
     "strokeDash":{"field":"s","type":"nominal","scale":{"domain":["a","b","c","d","e","f"],"range":[[1,0],[6,3],[6,2.5,1.5,2.5],[6,3],[6,2.5,1.5,2.5],[8,3,2,3]]},"legend":null}}}
  ]},
 {"width":392,"height":33,
  "encoding":{"x":{"field":"t","type":"quantitative","scale":{"domain":[1,120],"nice":false,"zero":false},"axis":{"values":[10,20,30,40,50,60,70,80,90,100,110,120],"title":"Time(s)"}}},
  "layer":[
   {"data":{"values":[{}]},"mark":{"type":"rect","color":"#000000","opacity":0.06},"encoding":{"x":{"datum":10},"x2":{"datum":110}}},
   {"data":{"name":"R8"},"transform":[{"fold":["a","b","c","d","e","f"],"as":["s","v"]},{"filter":"isValid(datum.v)"}],"mark":{"type":"line","strokeWidth":1.6},
    "encoding":{"y":{"field":"v","type":"quantitative","scale":{"domain":[0,3],"nice":false,"zero":false},"axis":{"values":[0,1,2,3],"title":"SPE"}},
     "color":{"field":"s","type":"nominal","scale":{"domain":["a","b","c","d","e","f"],"range":["#0000ff","#178a17","#ff00ff","#2cbfbf","#000000","#ff0000"]},
       "legend":{"title":null,"orient":"none","legendX":342,"legendY":54,"direction":"vertical","values":["f"],"symbolType":"M-3.3,0H3.3","symbolSize":49,"symbolOffset":5,"labelOffset":8,"labelExpr":"{'a':'Measurements','b':'SSDR-M all M','c':'SSDR-M no GE','d':'SSDR-D all M','e':'SSDR-D no GE','f':'Limit'}[datum.label]"}},
     "strokeDash":{"field":"s","type":"nominal","scale":{"domain":["a","b","c","d","e","f"],"range":[[1,0],[6,3],[6,2.5,1.5,2.5],[6,3],[6,2.5,1.5,2.5],[8,3,2,3]]},
       "legend":{"title":null,"orient":"none","legendX":342,"legendY":54,"direction":"vertical","values":["f"],"symbolType":"M-3.3,0H3.3","symbolSize":49,"symbolOffset":5,"labelOffset":8,"labelExpr":"{'a':'Measurements','b':'SSDR-M all M','c':'SSDR-M no GE','d':'SSDR-D all M','e':'SSDR-D no GE','f':'Limit'}[datum.label]"}}}}
  ]}
 ],"spacing":29,"bounds":"flush",
 "resolve":{"scale":{"color":"independent","strokeDash":"independent","y":"independent"},"legend":{"color":"independent","strokeDash":"independent"}}}
],
"spacing":38,
"resolve":{"scale":{"color":"independent","strokeDash":"independent"},"legend":{"color":"independent","strokeDash":"independent"}}
}
